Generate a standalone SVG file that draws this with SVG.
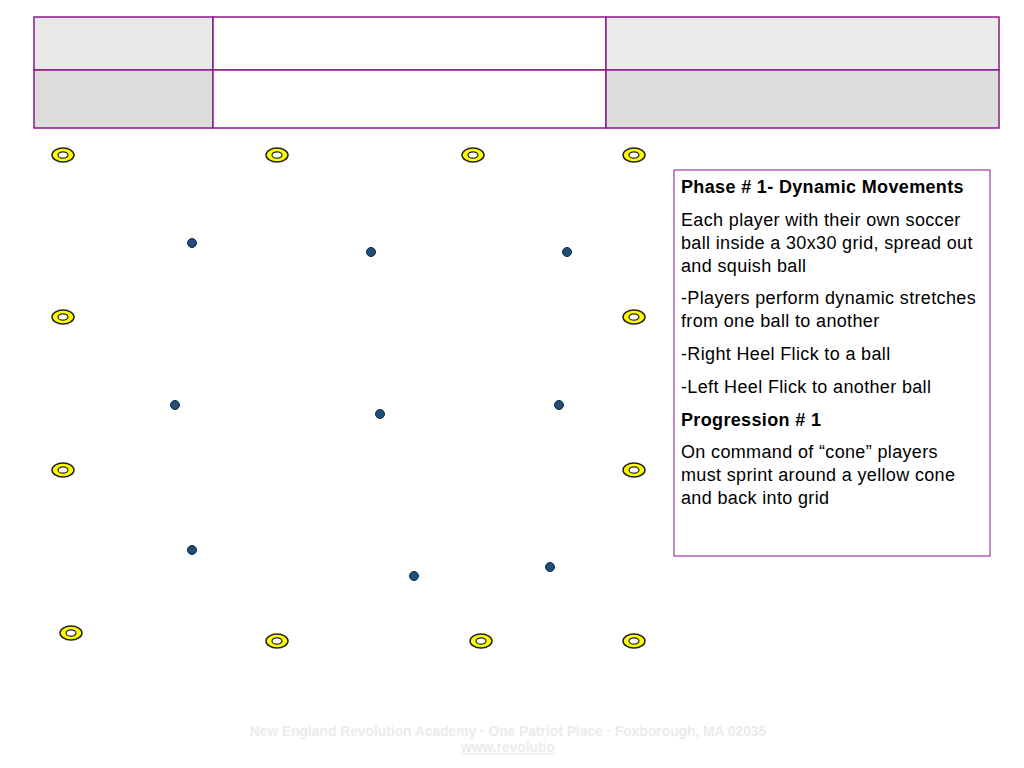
<svg xmlns="http://www.w3.org/2000/svg" width="1024" height="768" viewBox="0 0 1024 768">
<style>
.c{fill:#ffff00;stroke:#222;stroke-width:1.5}
.ci{fill:#fff;stroke:#222;stroke-width:1.2}
.b{fill:#1f4e79;stroke:#0d2a45;stroke-width:1}
.t{font-family:"Liberation Sans",Arial,sans-serif;font-size:18px;letter-spacing:0.35px;fill:#000}
.f{font-family:"Liberation Sans",Arial,sans-serif;font-size:13.8px;font-weight:bold;fill:#ebebeb}
</style>
<defs>
<g id="cone"><ellipse class="c" rx="11" ry="7"/><ellipse class="ci" rx="5" ry="3.2"/></g>
</defs>
<g id="table" stroke="#8b1a8b" stroke-width="1.5">
<rect x="34" y="17" width="179" height="53" fill="#e8e8e8"/>
<rect x="213" y="17" width="393" height="53" fill="#fff"/>
<rect x="606" y="17" width="393" height="53" fill="#ebebeb"/>
<rect x="34" y="70" width="179" height="58" fill="#dcdcdc"/>
<rect x="213" y="70" width="393" height="58" fill="#fff"/>
<rect x="606" y="70" width="393" height="58" fill="#dcdcdc"/>
</g>
<g id="cones">
<use href="#cone" x="63" y="155"/><use href="#cone" x="277" y="155"/><use href="#cone" x="473" y="155"/><use href="#cone" x="634" y="155"/>
<use href="#cone" x="63" y="317"/><use href="#cone" x="634" y="317"/>
<use href="#cone" x="63" y="470"/><use href="#cone" x="634" y="470"/>
<use href="#cone" x="71" y="633"/><use href="#cone" x="277" y="641"/><use href="#cone" x="481" y="641"/><use href="#cone" x="634" y="641"/>
</g>
<g id="balls">
<circle class="b" cx="192" cy="243" r="4.5"/><circle class="b" cx="371" cy="252" r="4.5"/><circle class="b" cx="567" cy="252" r="4.5"/>
<circle class="b" cx="175" cy="405" r="4.5"/><circle class="b" cx="380" cy="414" r="4.5"/><circle class="b" cx="559" cy="405" r="4.5"/>
<circle class="b" cx="192" cy="550" r="4.5"/><circle class="b" cx="414" cy="576" r="4.5"/><circle class="b" cx="550" cy="567" r="4.5"/>
</g>
<g id="textbox">
<rect x="674" y="170" width="316" height="386" fill="#fff" stroke="#9b3b9b" stroke-width="1.2"/>
<text class="t" x="681" y="193" font-weight="bold" letter-spacing="0">Phase # 1- Dynamic Movements</text>
<text class="t" x="681" y="226">Each player with their own soccer</text>
<text class="t" x="681" y="249">ball inside a 30x30 grid, spread out</text>
<text class="t" x="681" y="272">and squish ball</text>
<text class="t" x="681" y="304">-Players perform dynamic stretches</text>
<text class="t" x="681" y="327">from one ball to another</text>
<text class="t" x="681" y="360">-Right Heel Flick to a ball</text>
<text class="t" x="681" y="393">-Left Heel Flick to another ball</text>
<text class="t" x="681" y="426" font-weight="bold" letter-spacing="0">Progression # 1</text>
<text class="t" x="681" y="458">On command of “cone” players</text>
<text class="t" x="681" y="481">must sprint around a yellow cone</text>
<text class="t" x="681" y="504">and back into grid</text>
</g>
<g id="footer">
<text class="f" x="508" y="736" text-anchor="middle">New England Revolution Academy · One Patriot Place · Foxborough, MA 02035</text>
<text class="f" x="508" y="752" text-anchor="middle" text-decoration="underline">www.revolutio</text>
</g>
</svg>
